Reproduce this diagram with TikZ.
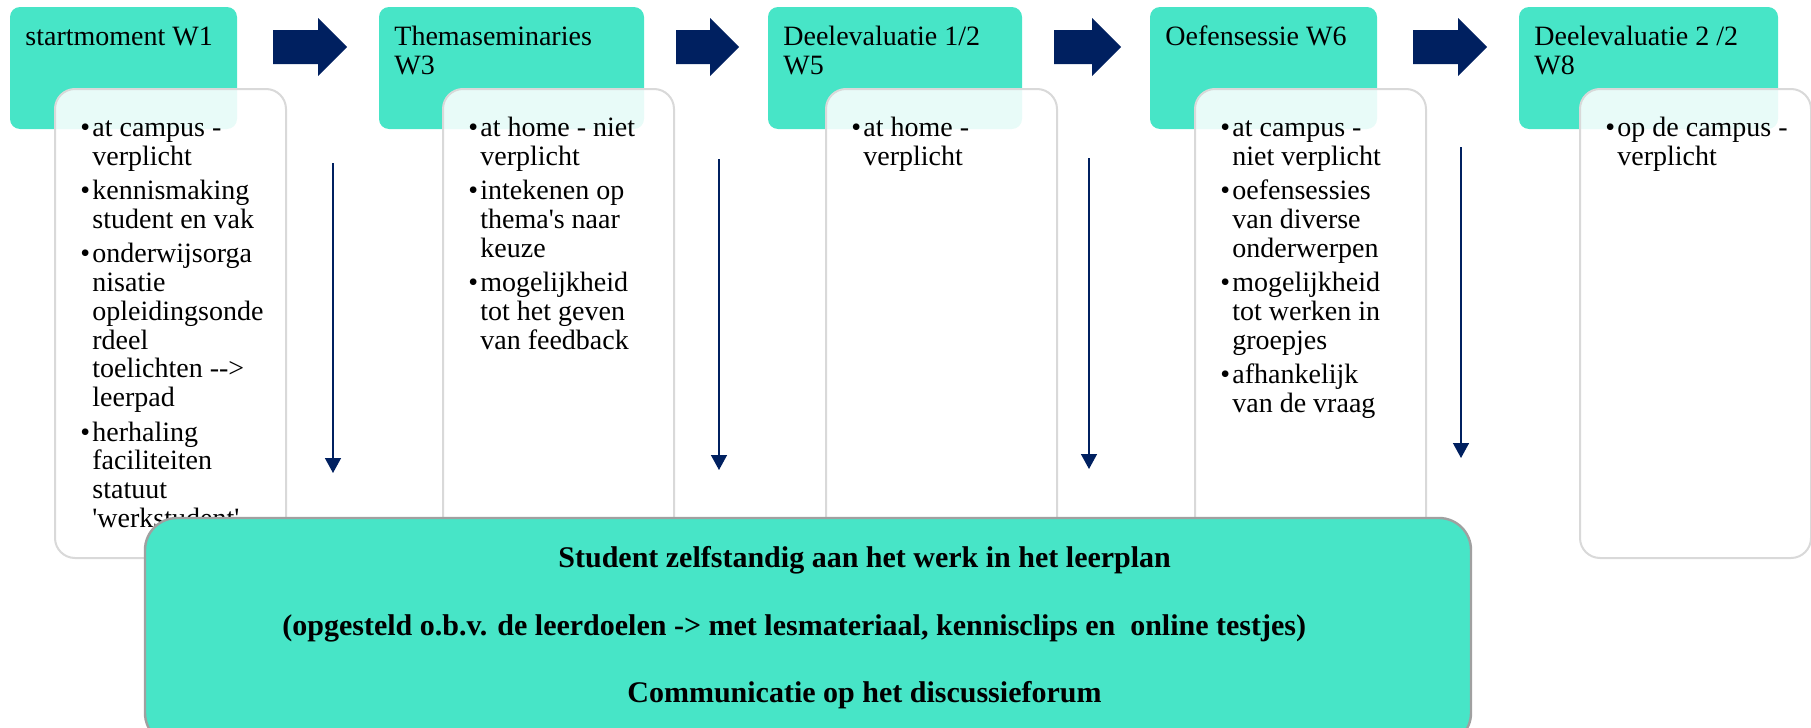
\documentclass[tikz,border=0pt]{standalone}
\usepackage{fontspec}
\setmainfont{Liberation Serif}
\usetikzlibrary{arrows.meta}

\definecolor{mint}{RGB}{71,229,199}
\definecolor{navy}{RGB}{0,32,96}
\definecolor{lightgrey}{RGB}{217,217,217}
\definecolor{edgegrey}{RGB}{160,160,160}

% bullet and hanging indent for the lists
\newcommand{\bul}{\makebox[6pt][l]{\textbullet}}
\newcommand{\ind}{\hspace*{6pt}}
\newcommand{\q}{\textquotesingle}

\begin{document}
\begin{tikzpicture}[x=0.5pt,y=-0.5pt,
    hdr/.style={fill=mint, rounded corners=5pt},
    detail/.style={draw=lightgrey, line width=1pt, fill=white, fill opacity=0.88, rounded corners=10pt},
    txt/.style={anchor=north west, inner sep=0pt, align=left, font=\fontsize{14}{14.4}\selectfont},
    bold/.style={anchor=base west, inner sep=0pt, font=\fontsize{15}{15}\selectfont\bfseries},
    base/.style={draw=edgegrey, line width=1.2pt, fill=mint, rounded corners=16pt}]

\useasboundingbox (0,0) rectangle (1811,728);

% Week boxes
\foreach \xa/\xb in {10/237, 379/644, 768/1022, 1150/1377, 1519/1778}
{
    \fill[hdr] (\xa,7) rectangle (\xb,129);
}

\node[txt] (w1) at (25,25) {\strut startmoment W1};
\node[txt] (w3) at (394,25) {\strut Themaseminaries\\W3};
\node[txt] (w5) at (783,25) {\strut Deelevaluatie 1/2\\W5};
\node[txt] (w6) at (1165,25) {\strut Oefensessie W6};
\node[txt] (w8) at (1534,25) {\strut Deelevaluatie 2 /2\\W8};

% Block arrows between the weeks
\foreach \xa/\xb in {273/347, 676/739, 1054/1121, 1413/1487}
{
    \fill[navy] (\xa,30) -- (\xb-29,30) -- (\xb-29,18) -- (\xb,47)
        -- (\xb-29,76) -- (\xb-29,64) -- (\xa,64) -- cycle;
}

% Detail boxes, laid over the week boxes
\foreach \xa in {55, 443, 826, 1195, 1580}
{
    \draw[detail] (\xa,89) rectangle ++(231,469);
}

\node[txt] (d1) at (80,116) {\strut\bul at campus -\\\ind verplicht\\[2.75pt]
    \bul kennismaking\\\ind student en vak\\[2.75pt]
    \bul onderwijsorga\\\ind nisatie\\\ind opleidingsonde\\\ind rdeel\\\ind toelichten -{}-{}>\\\ind leerpad\\[2.75pt]
    \bul herhaling\\\ind faciliteiten\\\ind statuut\\\ind \q werkstudent\q};
\node[txt] (d3) at (468,116) {\strut\bul at home - niet\\\ind verplicht\\[2.75pt]
    \bul intekenen op\\\ind thema\q s naar\\\ind keuze\\[2.75pt]
    \bul mogelijkheid\\\ind tot het geven\\\ind van feedback};
\node[txt] (d5) at (851,116) {\strut\bul at home -\\\ind verplicht};
\node[txt] (d6) at (1220,116) {\strut\bul at campus -\\\ind niet verplicht\\[2.75pt]
    \bul oefensessies\\\ind van diverse\\\ind onderwerpen\\[2.75pt]
    \bul mogelijkheid\\\ind tot werken in\\\ind groepjes\\[2.75pt]
    \bul afhankelijk\\\ind van de vraag};
\node[txt] (d8) at (1605,116) {\strut\bul op de campus -\\\ind verplicht};

% Thin arrows down each gap
\foreach \x/\ya/\yb in {333/163/473, 719/159/470, 1089/158/469, 1461/147/458}
{
    \draw[navy, line width=0.75pt, -{Triangle[width=8pt,length=7.5pt]}] (\x,\ya) -- (\x,\yb);
}

% Self-study box along the bottom
\draw[base] (145,518) rectangle (1471,745);
\node[bold] (s1) at (558,567) {Student zelfstandig aan het werk in het leerplan};
\node[bold] (s2) at (282,635) {(opgesteld o.b.v. de leerdoelen -> met lesmateriaal, kennisclips en\ \ online testjes)};
\node[bold] (s3) at (627,702) {Communicatie op het discussieforum};

\end{tikzpicture}
\end{document}
